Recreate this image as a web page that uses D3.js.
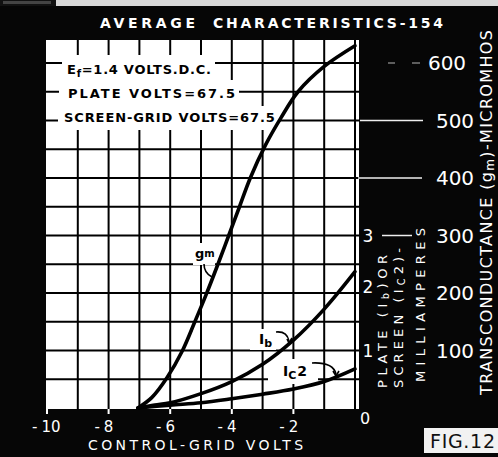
<!DOCTYPE html>
<html>
<head>
<meta charset="utf-8">
<script src="https://cdn.jsdelivr.net/npm/d3@7"></script>
<style>
  body { margin: 0; background: #000; }
  svg { display: block; }
  text { font-family: "DejaVu Sans", sans-serif; }
</style>
</head>
<body>
<svg id="chart" width="498" height="457"></svg>
<script>
// ---- data: 1S4 pentode average characteristics ----
const voltTicks = [-10, -8, -6, -4, -2, 0];
const gridVolts = [-9, -8, -7, -6, -5, -4, -3, -2, -1, 0];
const gridMicromhos = [50, 100, 150, 200, 250, 300, 350, 400, 450, 500, 550, 600];
const gmTicks = [600, 500, 400, 300, 200, 100];
const maTicks = [3, 2, 1];

// transconductance (micromhos) vs control-grid volts
const gmVolts  = [-7.05, -6.6, -6.1, -5.6, -5.2, -4.85, -4.45, -4.1, -3.75, -3.4, -2.9, -2.4, -1.85, -1.0, 0];
const gmValues = [0, 18, 53, 100, 150, 195, 250, 300, 350, 400, 458, 505, 550, 594, 630];

// plate current Ib (mA)
const ibVolts  = [-7.05, -6.5, -6, -5, -4, -3, -2, -1, 0];
const ibValues = [0, 0.05, 0.09, 0.25, 0.46, 0.76, 1.18, 1.72, 2.37];

// screen current Ic2 (mA)
const ic2Volts  = [-7.05, -6, -5, -4, -3, -2, -1, 0];
const ic2Values = [0, 0.05, 0.09, 0.16, 0.24, 0.33, 0.46, 0.68];

const operatingNotes = ["=1.4 VOLTS.D.C.", "PLATE VOLTS=67.5", "SCREEN-GRID VOLTS=67.5"];

// ---- drawing ----
const W = 498, H = 457;
const svg = d3.select("#chart");

const x  = d3.scaleLinear().domain([-10, 0]).range([47, 355]);
const yG = d3.scaleLinear().domain([0, 600]).range([408, 63]);   // micromhos
const yI = d3.scaleLinear().domain([0, 6]).range([408, 63]);     // milliamperes

function fit(sel, target) {
  const node = sel.node();
  const n = node.getNumberOfChars();
  const len = node.getComputedTextLength();
  sel.attr("letter-spacing", ((target - len) / Math.max(1, n - 1)).toFixed(2));
  return sel;
}

// black card with paper strip along the top
svg.append("rect").attr("width", W).attr("height", H).attr("fill", "#060606");
svg.append("rect").attr("x", 0).attr("y", 0).attr("width", W).attr("height", 6).attr("fill", "#d8d8d8");
svg.append("rect").attr("x", 0).attr("y", 0).attr("width", 56).attr("height", 6).attr("fill", "#111");
svg.append("rect").attr("x", 3).attr("y", 1).attr("width", 48).attr("height", 3).attr("fill", "#444");

// title
const t1 = svg.append("text").attr("x", 100).attr("y", 28).attr("fill", "#fff")
  .attr("font-size", 14).attr("font-weight", "bold").text("AVERAGE");
fit(t1, 95);
const t2 = svg.append("text").attr("x", 213).attr("y", 28).attr("fill", "#fff")
  .attr("font-size", 14).attr("font-weight", "bold").text("CHARACTERISTICS-154");
fit(t2, 230);

// plotting paper
svg.append("rect").attr("x", x(-10) - 1).attr("y", 40)
  .attr("width", x(0) + 4 - (x(-10) - 1)).attr("height", yG(0) + 1 - 40).attr("fill", "#fff");

const grid = svg.append("g").attr("stroke", "#000").attr("stroke-width", 2);
grid.selectAll("line.v").data(gridVolts).join("line").attr("class", "v")
  .attr("x1", d => x(d)).attr("x2", d => x(d)).attr("y1", 40).attr("y2", yG(0) + 1);
grid.selectAll("line.h").data(gridMicromhos).join("line").attr("class", "h")
  .attr("x1", x(-10) - 1).attr("x2", x(0) + 4).attr("y1", d => yG(d)).attr("y2", d => yG(d));

// clear patches on the paper behind the lettering
const patches = [
  [62, 55, 153, 25], [59, 80, 180, 26], [58, 106, 221, 24],   // operating notes
  [193, 243, 22, 22],                                          // gm
  [250, 329, 26, 21],                                          // Ib
  [268, 359, 50, 25]                                           // Ic2
];
svg.append("g").selectAll("rect").data(patches).join("rect")
  .attr("x", d => d[0]).attr("y", d => d[1]).attr("width", d => d[2]).attr("height", d => d[3])
  .attr("fill", "#fff");

// operating conditions
const n1 = svg.append("text").attr("x", 67).attr("y", 74).attr("font-size", 13).attr("font-weight", "bold");
n1.append("tspan").text("E");
n1.append("tspan").attr("font-size", 10).attr("dy", 3).text("f");
n1.append("tspan").attr("dy", -3).text(operatingNotes[0]);
fit(n1, 144);
const n2 = svg.append("text").attr("x", 68).attr("y", 98).attr("font-size", 13).attr("font-weight", "bold")
  .text(operatingNotes[1]);
fit(n2, 167);
const n3 = svg.append("text").attr("x", 64).attr("y", 122).attr("font-size", 13).attr("font-weight", "bold")
  .text(operatingNotes[2]);
fit(n3, 211);

// characteristic curves
const curves = [
  { v: gmVolts,  y: gmValues,  s: yG },
  { v: ibVolts,  y: ibValues,  s: yI },
  { v: ic2Volts, y: ic2Values, s: yI }
];
curves.forEach(c => {
  const line = d3.line().x(d => x(d[0])).y(d => c.s(d[1])).curve(d3.curveCatmullRom.alpha(0.5));
  svg.append("path").attr("d", line(c.v.map((v, i) => [v, c.y[i]])))
    .attr("fill", "none").attr("stroke", "#000").attr("stroke-width", 3.6)
    .attr("stroke-linecap", "round");
});

// curve labels with leaders
const lg = svg.append("text").attr("x", 195).attr("y", 258).attr("font-size", 13).attr("font-weight", "bold");
lg.append("tspan").text("g");
lg.append("tspan").attr("font-size", 10).attr("dy", -1).text("m");

const lb = svg.append("text").attr("x", 259).attr("y", 344).attr("font-size", 14).attr("font-weight", "bold");
lb.append("tspan").text("I");
lb.append("tspan").attr("font-size", 11).attr("dy", 3).text("b");

const lc = svg.append("text").attr("x", 283).attr("y", 376).attr("font-size", 14).attr("font-weight", "bold");
lc.append("tspan").text("I");
lc.append("tspan").attr("font-size", 11).attr("dy", 3).text("C");
lc.append("tspan").attr("dy", -3).attr("dx", 1).text("2");

const leaders = svg.append("g").attr("fill", "none").attr("stroke", "#000").attr("stroke-width", 1.6);
leaders.append("path").attr("d", "M204,264 Q204,273 212,277");
leaders.append("path").attr("d", "M276,332 Q287,331 289,341");
leaders.append("path").attr("d", "M287,339 L289,343 L292,338");
leaders.append("path").attr("d", "M312,363 Q333,362 336,374");
leaders.append("path").attr("d", "M333,371 L336,376 L339,371");

// control-grid volts axis
svg.append("g").selectAll("line").data(voltTicks.filter(d => d < 0)).join("line")
  .attr("x1", d => x(d)).attr("x2", d => x(d)).attr("y1", 409).attr("y2", 414)
  .attr("stroke", "#fff").attr("stroke-width", 2);
const vl = svg.append("g").attr("fill", "#fff").attr("font-size", 15);
voltTicks.forEach(d => {
  if (d === 0) {
    vl.append("text").attr("x", x(0) + 10).attr("y", 424).attr("text-anchor", "middle")
      .attr("font-size", 16).text("0");
    return;
  }
  const digits = vl.append("text").attr("x", x(d) + (d <= -10 ? 4 : 0)).attr("y", 432)
    .attr("text-anchor", "middle").text(Math.abs(d));
  const w = digits.node().getComputedTextLength();
  vl.append("text").attr("x", x(d) + (d <= -10 ? 4 : 0) - w / 2 - 4).attr("y", 432)
    .attr("text-anchor", "end").text("-");
});
const xt = svg.append("text").attr("x", 88).attr("y", 450).attr("fill", "#fff")
  .attr("font-size", 14).text("CONTROL-GRID VOLTS");
fit(xt, 215);

// transconductance scale
const gmTickMarks = { 500: [360, 423], 400: [358, 422], 300: [382, 412] };
const rt = svg.append("g").attr("stroke", "#eee").attr("stroke-width", 1.5);
gmTicks.forEach(v => {
  if (gmTickMarks[v]) {
    rt.append("line").attr("x1", gmTickMarks[v][0]).attr("x2", gmTickMarks[v][1])
      .attr("y1", yG(v)).attr("y2", yG(v));
  }
});
rt.append("line").attr("x1", 388).attr("x2", 395).attr("y1", yG(600)).attr("y2", yG(600)).attr("stroke", "#999").attr("stroke-width", 1.2);
rt.append("line").attr("x1", 412).attr("x2", 420).attr("y1", yG(600)).attr("y2", yG(600)).attr("stroke", "#999").attr("stroke-width", 1.2);

svg.append("g").selectAll("text").data(gmTicks).join("text")
  .attr("x", d => d === 600 ? 447 : 455).attr("y", d => yG(d) + 7)
  .attr("text-anchor", "middle").attr("fill", "#fff").attr("font-size", 20)
  .text(d => d);

// plate / screen current scale
svg.append("g").selectAll("text").data(maTicks).join("text")
  .attr("x", 368).attr("y", d => yI(d) + 6 - (d === 2 ? 6 : 0))
  .attr("text-anchor", "middle").attr("fill", "#fff").attr("font-size", 17)
  .text(d => d);

// rotated axis titles
function vtext(xb, ystart, len, size, parts) {
  const t = svg.append("text").attr("transform", `translate(${xb},${ystart}) rotate(-90)`)
    .attr("fill", "#fff").attr("font-size", size);
  parts.forEach(p => {
    const s = t.append("tspan").text(p.t);
    if (p.sub) s.attr("font-size", size * 0.75).attr("dy", 2);
    if (p.back) s.attr("dy", -2);
  });
  fit(t, len);
  return t;
}
vtext(387, 388, 133, 13, [{ t: "PLATE (I" }, { t: "b", sub: true }, { t: ")OR", back: true }]);
vtext(403, 388, 140, 13, [{ t: "SCREEN (I" }, { t: "C", sub: true }, { t: "2)-", back: true }]);
vtext(425, 382, 154, 13, [{ t: "MILLIAMPERES" }]);
vtext(492, 395, 365, 16, [{ t: "TRANSCONDUCTANCE (g" }, { t: "m", sub: true }, { t: ")-MICROMHOS", back: true }]);

// figure tag
svg.append("rect").attr("x", 424).attr("y", 428).attr("width", 74).attr("height", 25).attr("fill", "#f2f2f2");
const fig = svg.append("text").attr("x", 430).attr("y", 448).attr("font-size", 19).attr("fill", "#111").text("FIG.12");
fit(fig, 65);
</script>
</body>
</html>
